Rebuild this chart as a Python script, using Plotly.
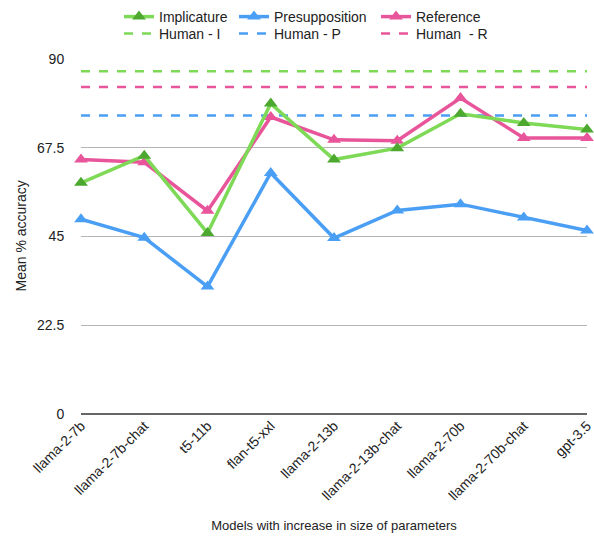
import plotly.graph_objects as go

models = ["llama-2-7b", "llama-2-7b-chat", "t5-11b", "flan-t5-xxl", "llama-2-13b",
          "llama-2-13b-chat", "llama-2-70b", "llama-2-70b-chat", "gpt-3.5"]
implicature = [58.6, 65.5, 45.9, 78.7, 64.5, 67.4, 76.1, 73.8, 72.1]
presupposition = [49.4, 44.7, 32.3, 61.1, 44.6, 51.6, 53.2, 49.8, 46.5]
reference = [64.5, 63.8, 51.5, 75.3, 69.5, 69.3, 80.1, 70.0, 70.0]
human_i = 86.9
human_p = 75.7
human_r = 82.9
y_ticks = [0, 22.5, 45, 67.5, 90]
y_tick_labels = ["0", "22.5", "45", "67.5", "90"]

GREEN_L, GREEN_M = "#7ED957", "#4CA82E"
BLUE = "#4A9FF5"
PINK = "#E8559A"

W, H = 594, 538
x = list(range(len(models)))
fig = go.Figure()

def series(name, vals, lc, mc, leg):
    fig.add_trace(go.Scatter(x=x, y=vals, name=name, mode="lines+markers",
                             line=dict(color=lc, width=3.5),
                             marker=dict(symbol="triangle-up", size=12, color=mc),
                             cliponaxis=False, legend=leg, showlegend=True))

def human(name, val, c, leg):
    fig.add_trace(go.Scatter(x=x, y=[val] * len(x), name=name, mode="lines",
                             line=dict(color=c, width=2.5, dash="dash"),
                             legend=leg, showlegend=True))

# human lines drawn underneath
human("Human - I", human_i, GREEN_L, "legend4")
human("Human - P", human_p, BLUE, "legend5")
human("Human  - R", human_r, PINK, "legend6")
series("Presupposition", presupposition, BLUE, BLUE, "legend2")
series("Reference", reference, PINK, PINK, "legend3")
series("Implicature", implicature, GREEN_L, GREEN_M, "legend")

font = dict(family="Liberation Sans, Arial, sans-serif", size=14, color="#222")

def leg(px, py):
    return dict(orientation="v", xref="container", yref="container",
                x=px / W, y=1 - py / H, xanchor="left", yanchor="middle",
                bgcolor="rgba(0,0,0,0)", font=dict(size=14), itemwidth=30,
                visible=True)

fig.update_layout(
    width=W, height=H,
    showlegend=True,
    margin=dict(l=81, r=7, t=59, b=124, autoexpand=False),
    paper_bgcolor="white", plot_bgcolor="white",
    font=font,
    legend=leg(119, 17),
    legend2=leg(234, 17),
    legend3=leg(376, 17),
    legend4=leg(119, 34),
    legend5=leg(234, 34),
    legend6=leg(376, 34),
    xaxis=dict(tickmode="array", tickvals=x, ticktext=models, tickangle=-45,
               range=[0, len(models) - 1], showgrid=False, zeroline=False,
               showline=False, ticks="", automargin=True, ticklabeloverflow="allow",
               title=dict(text="Models with increase in size of parameters", standoff=18,
                          font=dict(size=13)),
               tickfont=dict(size=14)),
    yaxis=dict(range=[0, 90], tickmode="array", tickvals=y_ticks, ticktext=y_tick_labels,
               showgrid=True, gridcolor="#b5b5b5", gridwidth=1, zeroline=True,
               zerolinecolor="#666", zerolinewidth=2, showline=False,
               ticks="outside", ticklen=13, tickcolor="rgba(0,0,0,0)", automargin=True,
               tickfont=dict(size=14)),
    annotations=[dict(text="Mean % accuracy", textangle=-90, showarrow=False,
                      xref="paper", yref="paper", x=-(81 - 20) / (W - 88), y=0.5,
                      xanchor="center", yanchor="middle", font=dict(size=14))],
)

fig.write_html("out.html", config={"displayModeBar": False},
               post_script="document.body.style.margin='0';")
